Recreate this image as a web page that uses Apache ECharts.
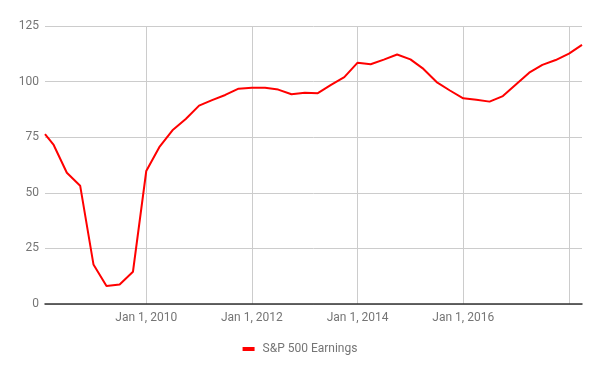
<!DOCTYPE html>
<html>
<head>
<meta charset="utf-8">
<script src="https://cdn.jsdelivr.net/npm/echarts@6/dist/echarts.min.js"></script>
<style>
html,body{margin:0;padding:0;background:#fff;}
#chart{width:600px;height:371px;}
</style>
</head>
<body>
<div id="chart"></div>
<script>
var seriesName = 'S&P 500 Earnings';
var dates = [
  '2008-02-01','2008-04-01','2008-07-01','2008-10-01',
  '2009-01-01','2009-04-01','2009-07-01','2009-10-01',
  '2010-01-01','2010-04-01','2010-07-01','2010-10-01',
  '2011-01-01','2011-04-01','2011-07-01','2011-10-01',
  '2012-01-01','2012-04-01','2012-07-01','2012-10-01',
  '2013-01-01','2013-04-01','2013-07-01','2013-10-01',
  '2014-01-01','2014-04-01','2014-07-01','2014-10-01',
  '2015-01-01','2015-04-01','2015-07-01','2015-10-01',
  '2016-01-01','2016-04-01','2016-07-01','2016-10-01',
  '2017-01-01','2017-04-01','2017-07-01','2017-10-01',
  '2018-01-01','2018-04-01'
];
var earnings = [
  76.4, 71.5, 59.0, 53.2,
  17.8, 8.1, 8.8, 14.5,
  59.8, 70.5, 78.1, 83.2,
  89.2, 91.7, 94.0, 96.8,
  97.2, 97.2, 96.4, 94.3,
  95.0, 94.8, 98.5, 102.0,
  108.5, 107.8, 109.9, 112.2,
  110.0, 105.7, 99.8, 96.0,
  92.5, 91.8, 91.0, 93.5,
  98.8, 104.0, 107.5, 109.7,
  112.6, 116.5
];
var yTicks = [0, 25, 50, 75, 100, 125];
var gridYears = [2010, 2012, 2014, 2016, 2018];
var labelYears = [2010, 2012, 2014, 2016];

function ts(s) {
  var p = s.split('-');
  return Date.UTC(+p[0], +p[1] - 1, +p[2]);
}
var seriesData = dates.map(function (d, i) { return [ts(d), earnings[i]]; });
var gridTicks = gridYears.map(function (y) { return Date.UTC(y, 0, 1); });
var labelTicks = labelYears.map(function (y) { return Date.UTC(y, 0, 1); });

var chart = echarts.init(document.getElementById('chart'), null, {renderer: 'canvas'});
chart.setOption({
  animation: false,
  backgroundColor: '#fff',
  textStyle: {fontFamily: 'Roboto'},
  grid: {left: 45, right: 18, top: 26, bottom: 67, containLabel: false},
  legend: {
    data: [seriesName],
    top: 338,
    left: 'center',
    icon: 'rect',
    itemWidth: 12,
    itemHeight: 4,
    itemGap: 8,
    textStyle: {color: '#757575', fontSize: 12, fontFamily: 'Roboto', padding: [0, 0, 0, 3]}
  },
  xAxis: {
    type: 'value',
    min: ts(dates[0]),
    max: ts(dates[dates.length - 1]),
    axisLine: {show: true, onZero: false, lineStyle: {color: '#333', width: 1.5}},
    axisTick: {show: false, customValues: gridTicks},
    splitLine: {show: true, lineStyle: {color: '#cccccc', width: 1}},
    axisLabel: {
      customValues: labelTicks,
      color: '#757575',
      fontSize: 12,
      fontFamily: 'Roboto',
      margin: 8,
      formatter: function (v) {
        var d = new Date(v);
        return 'Jan 1, ' + d.getUTCFullYear();
      }
    }
  },
  yAxis: {
    type: 'value',
    min: yTicks[0],
    max: yTicks[yTicks.length - 1],
    interval: 25,
    axisLine: {show: false},
    axisTick: {show: false},
    splitLine: {show: true, lineStyle: {color: '#cccccc', width: 1}},
    axisLabel: {color: '#757575', fontSize: 12, fontFamily: 'Roboto', margin: 6}
  },
  series: [{
    name: seriesName,
    type: 'line',
    data: seriesData,
    showSymbol: false,
    symbol: 'none',
    lineStyle: {color: '#ff0000', width: 2},
    itemStyle: {color: '#ff0000'},
    z: 5
  }]
});
</script>
</body>
</html>
